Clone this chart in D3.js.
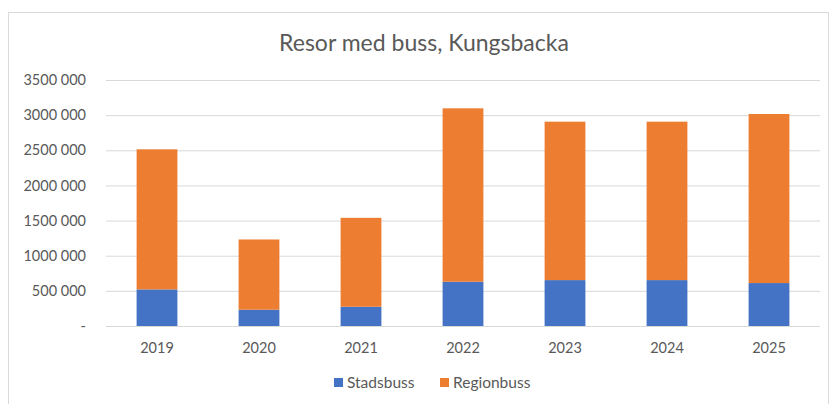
<!DOCTYPE html>
<html>
<head>
<meta charset="utf-8">
<script src="https://cdn.jsdelivr.net/npm/d3@7"></script>
<style>
  body { margin: 0; background: #fff; }
  text { font-family: Lato, "Open Sans", sans-serif; fill: #595959; }
</style>
</head>
<body>
<div id="chart"></div>
<script>
// data
const years = ["2019", "2020", "2021", "2022", "2023", "2024", "2025"];
const stadsbuss = [521000, 232000, 274000, 630000, 653000, 653000, 611000];
const regionbuss = [1993000, 999000, 1265000, 2467000, 2254000, 2254000, 2405000];
const yTicks = [0, 500000, 1000000, 1500000, 2000000, 2500000, 3000000, 3500000];
const yTickLabels = ["-", "500 000", "1000 000", "1500 000", "2000 000", "2500 000", "3000 000", "3500 000"];
const seriesNames = ["Stadsbuss", "Regionbuss"];
const seriesColours = ["#4472C4", "#ED7D31"];

const width = 832;
const height = 404;
const margin = { top: 80, right: 12, bottom: 78, left: 106 };

const svg = d3.select("#chart")
    .append("svg")
    .attr("width", width)
    .attr("height", height);

// chart frame
svg.append("rect")
    .attr("x", 8.5)
    .attr("y", 12.5)
    .attr("width", 820)
    .attr("height", 400)
    .attr("fill", "none")
    .attr("stroke", "#d9d9d9");

// title
svg.append("text")
    .attr("x", 424)
    .attr("y", 51)
    .attr("text-anchor", "middle")
    .attr("font-size", "23px")
    .text("Resor med buss, Kungsbacka");

const x = d3.scaleBand()
    .domain(years)
    .range([margin.left, width - margin.right])
    .paddingInner(0.6)
    .paddingOuter(0.3);

const y = d3.scaleLinear()
    .domain([0, 3500000])
    .range([height - margin.bottom, margin.top]);

// gridlines + y labels
const yAxis = d3.axisLeft(y)
    .tickValues(yTicks)
    .tickSize(-(width - margin.right - margin.left))
    .tickPadding(20)
    .tickFormat((d, i) => yTickLabels[i]);

const gy = svg.append("g")
    .attr("transform", `translate(${margin.left},0)`)
    .call(yAxis);
gy.select(".domain").remove();
gy.selectAll(".tick line").attr("stroke", "#d9d9d9");
gy.selectAll(".tick text").attr("font-size", "14.5px").attr("fill", "#595959");

// stacked data
const rows = years.map((yr, i) => ({ year: yr, Stadsbuss: stadsbuss[i], Regionbuss: regionbuss[i] }));
const stacked = d3.stack().keys(seriesNames)(rows);

svg.append("g")
    .selectAll("g")
    .data(stacked)
    .join("g")
    .attr("fill", (d, i) => seriesColours[i])
    .selectAll("rect")
    .data(d => d)
    .join("rect")
    .attr("x", d => x(d.data.year))
    .attr("y", d => y(d[1]))
    .attr("width", x.bandwidth())
    .attr("height", d => y(d[0]) - y(d[1]));

// x labels
const xAxis = d3.axisBottom(x).tickSize(0).tickPadding(17);
const gx = svg.append("g")
    .attr("transform", `translate(0,${height - margin.bottom})`)
    .call(xAxis);
gx.select(".domain").remove();
gx.selectAll(".tick text").attr("font-size", "14.5px").attr("fill", "#595959");

// legend
const legendX = [334, 440];
const legend = svg.append("g")
    .selectAll("g")
    .data(seriesNames)
    .join("g")
    .attr("transform", (d, i) => `translate(${legendX[i]},378)`);
legend.append("rect")
    .attr("width", 9)
    .attr("height", 9)
    .attr("fill", (d, i) => seriesColours[i]);
legend.append("text")
    .attr("x", 13)
    .attr("y", 10)
    .attr("font-size", "15.5px")
    .text(d => d);
</script>
</body>
</html>
